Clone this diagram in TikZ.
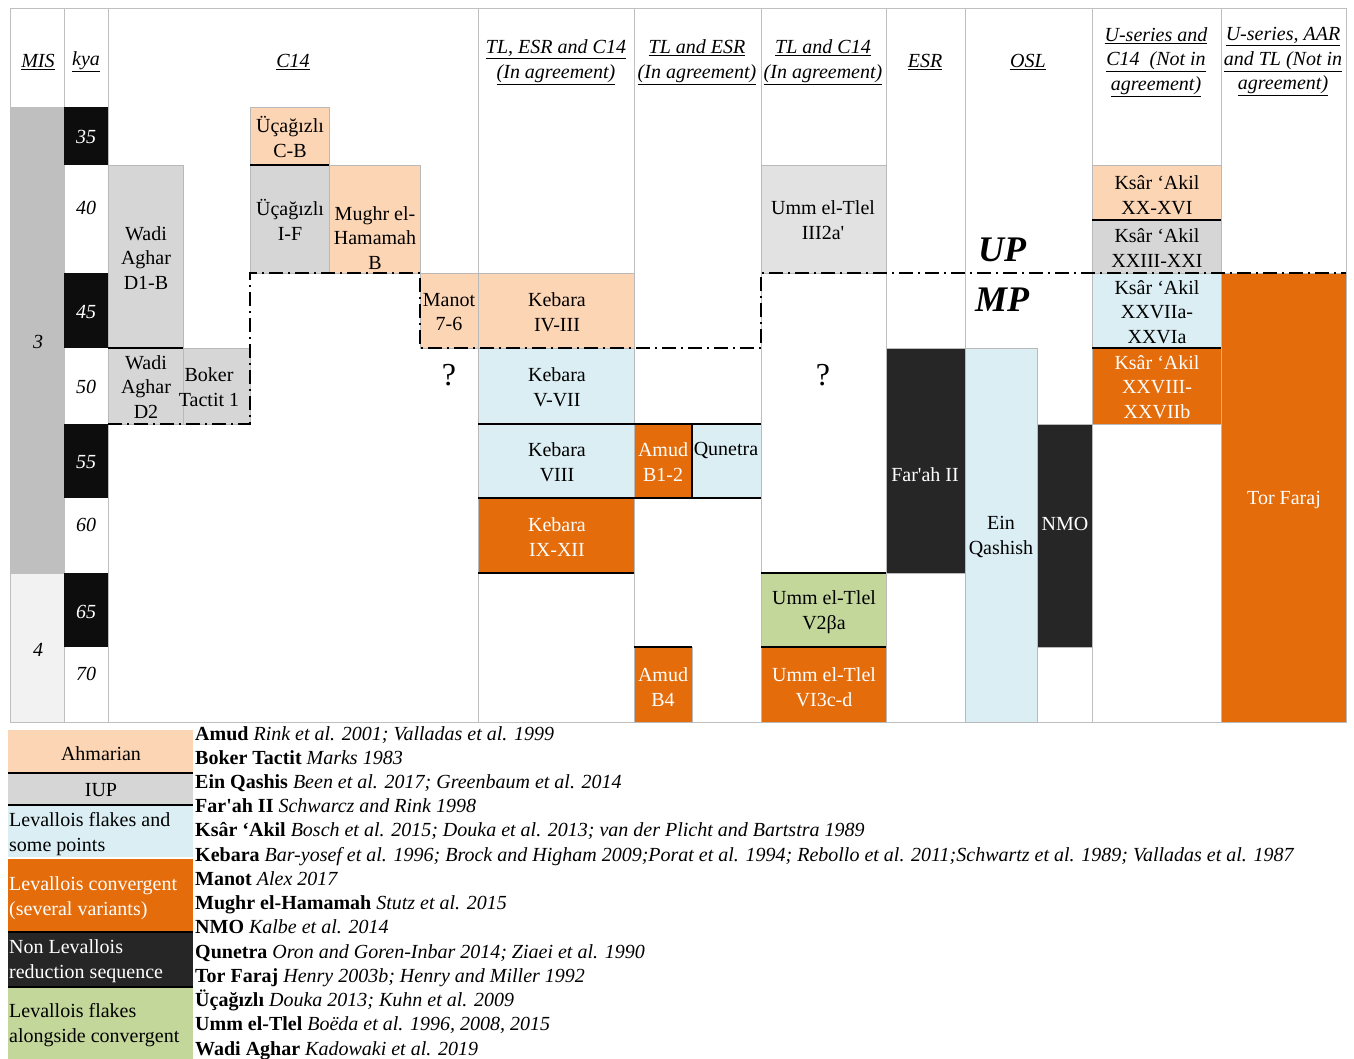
\documentclass[tikz,border=0pt]{standalone}
\usepackage{fontspec}
\setmainfont{Liberation Serif}[Ligatures=TeXOff]
\definecolor{ahmar}{HTML}{FCD5B4}
\definecolor{iup}{HTML}{D6D6D6}
\definecolor{levflake}{HTML}{DAEEF3}
\definecolor{levconv}{HTML}{E46C0A}
\definecolor{nonlev}{HTML}{262626}
\definecolor{levmix}{HTML}{C4D79B}
\definecolor{misthree}{HTML}{BFBFBF}
\definecolor{misfour}{HTML}{F2F2F2}
\definecolor{rulegrey}{HTML}{BFBFBF}
\begin{document}
\begin{tikzpicture}[x=1pt,y=-1pt,
  every node/.style={inner sep=0pt, align=center, font=\fontsize{20}{24.5}\selectfont},
  hdr/.style={font=\fontsize{20}{24.5}\selectfont\itshape},
  kya/.style={font=\fontsize{20}{24}\selectfont\itshape},
  wht/.style={text=white},
  rule/.style={draw=rulegrey, line width=0.8pt},
  box/.style={draw=gray!55, line width=0.6pt},
  sepline/.style={line width=2.5pt},
  updash/.style={line width=2.5pt, dash pattern=on 14pt off 5pt on 2pt off 5pt}]

\useasboundingbox (0,0) rectangle (1354,1059);

% table frame
\foreach \x in {10,64,108,478,634,761,886,965,1092,1221,1346}
  \draw[rule] (\x,8) -- (\x,722);
\draw[rule] (10,8) -- (1346,8);
\draw[rule] (10,722) -- (1346,722);

% MIS and kya
\filldraw[rule, fill=misthree] (10,107) rectangle (64,573);
\filldraw[rule, fill=misfour] (10,573) rectangle (64,722);
\foreach \a/\b in {107/165,273/348,424/498,573/647}
  \fill[black!95] (64,\a) rectangle (108,\b);
\node[kya] (mis3) at (38,342) {3};
\node[kya] (mis4) at (38,650) {4};
\foreach \k/\y/\c in {35/137/white,40/208/black,45/312/white,50/387/black,55/462/white,60/525/black,65/612/white,70/674/black}
  \node[kya, text=\c] (kya\k) at (86,\y) {\k};

% headers
\node[hdr] (hmis) at (38,62) {\underline{MIS}};
\node[hdr] (hkya) at (86,62) {\underline{kya}};
\node[hdr] (hcfour) at (293,62) {\underline{C14}};
\node[hdr] (htec) at (556,62) {\underline{TL, ESR and C14}\\\underline{(In agreement)}};
\node[hdr] (hte) at (697,62) {\underline{TL and ESR}\\\underline{(In agreement)}};
\node[hdr] (htc) at (823,62) {\underline{TL and C14}\\\underline{(In agreement)}};
\node[hdr] (hesr) at (925,62) {\underline{ESR}};
\node[hdr] (hosl) at (1028,62) {\underline{OSL}};
\node[hdr] (huc) at (1156,62) {\underline{U-series and}\\\underline{C14\ \ (Not in}\\\underline{agreement)}};
\node[hdr] (huat) at (1283,62) {\underline{U-series, AAR}\\\underline{and TL (Not in}\\\underline{agreement)}};

% C14
\filldraw[box, fill=iup] (108,165) rectangle (183,348);
\filldraw[box, fill=iup] (108,348) rectangle (183,424);
\filldraw[box, fill=iup] (183,348) rectangle (250,424);
\filldraw[box, fill=ahmar] (250,107) rectangle (329,165);
\filldraw[box, fill=iup] (250,165) rectangle (329,273);
\filldraw[box, fill=ahmar] (329,165) rectangle (420,273);
\filldraw[box, fill=ahmar] (420,273) rectangle (478,348);
\node (wadid1) at (146,258) {Wadi\\Aghar\\D1-B};
\node (wadid2) at (146,387) {Wadi\\Aghar\\D2};
\node (boker) at (209,387) {Boker\\Tactit 1};
\node (ucacb) at (290,137) {Üçağızlı\\C-B};
\node (ucaif) at (290,220) {Üçağızlı\\I-F};
\node (mughr) at (375,238) {Mughr el-\\Hamamah\\B};
\node (manot) at (449,312) {Manot\\7-6};
\node[font=\fontsize{32}{32}\selectfont] (qone) at (449,375) {?};

% TL, ESR and C14
\filldraw[box, fill=ahmar] (478,273) rectangle (634,348);
\filldraw[box, fill=levflake] (478,348) rectangle (634,424);
\filldraw[box, fill=levflake] (478,424) rectangle (634,498);
\filldraw[box, fill=levconv] (478,498) rectangle (634,573);
\node (keb43) at (557,312) {Kebara\\IV-III};
\node (keb57) at (557,387) {Kebara\\V-VII};
\node (keb8) at (557,462) {Kebara\\VIII};
\node[wht] (keb912) at (557,537) {Kebara\\IX-XII};

% TL and ESR
\filldraw[box, fill=levconv] (634,424) rectangle (692,498);
\filldraw[box, fill=levflake] (692,424) rectangle (761,498);
\filldraw[box, fill=levconv] (634,647) rectangle (692,722);
\node[wht] (amudb12) at (663,462) {Amud\\B1-2};
\node (qunetra) at (726,450) {Qunetra};
\node[wht] (amudb4) at (663,687) {Amud\\B4};

% TL and C14
\filldraw[box, fill=iup!70!white] (761,165) rectangle (886,273);
\filldraw[box, fill=levmix] (761,573) rectangle (886,647);
\filldraw[box, fill=levconv] (761,647) rectangle (886,722);
\node (umm3) at (823,220) {Umm el-Tlel\\III2a'};
\node[font=\fontsize{32}{32}\selectfont] (qtwo) at (823,375) {?};
\node (umm5) at (824,612) {Umm el-Tlel\\V2βa};
\node[wht] (umm6) at (824,687) {Umm el-Tlel\\VI3c-d};

% ESR and OSL
\filldraw[box, fill=nonlev] (886,348) rectangle (965,573);
\filldraw[box, fill=levflake] (965,348) rectangle (1037,722);
\filldraw[box, fill=nonlev] (1037,424) rectangle (1092,647);
\node[wht] (farah) at (925,475) {Far'ah II};
\node (einq) at (1001,537) {Ein\\Qashish};
\node[wht] (nmo) at (1065,524) {NMO};

% U-series columns
\filldraw[box, fill=ahmar] (1092,165) rectangle (1221,220);
\filldraw[box, fill=iup] (1092,220) rectangle (1221,273);
\filldraw[box, fill=levflake] (1092,273) rectangle (1221,348);
\filldraw[box, fill=levconv] (1092,348) rectangle (1221,424);
\filldraw[box, fill=levconv] (1221,273) rectangle (1346,722);
\node (ksar1) at (1157,195) {Ksâr ‘Akil\\XX-XVI};
\node (ksar2) at (1157,248) {Ksâr ‘Akil\\XXIII-XXI};
\node (ksar3) at (1157,312) {Ksâr ‘Akil\\XXVIIa-\\XXVIa};
\node[wht] (ksar4) at (1157,387) {Ksâr ‘Akil\\XXVIII-\\XXVIIb};
\node[wht] (torf) at (1284,500) {Tor Faraj};

% solid separators
\draw[sepline] (250,165) -- (329,165);
\draw[sepline] (108,348) -- (183,348);
\draw[sepline] (478,424) -- (761,424);
\draw[sepline] (478,498) -- (761,498);
\draw[sepline] (692,424) -- (692,498);
\draw[sepline] (478,573) -- (634,573);
\draw[sepline] (634,647) -- (692,647);
\draw[sepline] (761,573) -- (886,573);
\draw[sepline] (761,647) -- (886,647);
\draw[sepline] (1092,220) -- (1221,220);
\draw[sepline] (1092,348) -- (1221,348);

% UP / MP boundary
\draw[updash] (108,424) -- (250,424) -- (250,273) -- (420,273) -- (420,348)
  -- (761,348) -- (761,273) -- (1346,273);
\node[font=\fontsize{36}{36}\selectfont\bfseries\itshape] (up) at (1002,250) {UP};
\node[font=\fontsize{36}{36}\selectfont\bfseries\itshape] (mp) at (1002,300) {MP};

% legend
\fill[ahmar] (8,730) rectangle (193,773);
\fill[iup] (8,773) rectangle (193,805);
\fill[levflake] (8,805) rectangle (193,857);
\fill[levconv] (8,859) rectangle (193,932);
\fill[nonlev] (8,932) rectangle (193,987);
\fill[levmix] (8,987) rectangle (193,1059);
\foreach \y in {773,805,932,987}
  \draw[sepline] (8,\y) -- (193,\y);
\node (lahm) at (101,754) {Ahmarian};
\node (liup) at (101,790) {IUP};
\node[anchor=west, align=left] (lflake) at (9,834) {Levallois flakes and\\some points};
\node[anchor=west, align=left, wht] (lconv) at (9,898) {Levallois convergent\\(several variants)};
\node[anchor=west, align=left, wht] (lnon) at (9,961) {Non Levallois\\reduction sequence};
\node[anchor=west, align=left] (lmix) at (9,1025) {Levallois flakes\\alongside convergent};

% references
\foreach \s/\r [count=\i] in {
  Amud/{Rink et al. 2001; Valladas et al. 1999},
  Boker Tactit/{Marks 1983},
  Ein Qashis/{Been et al. 2017; Greenbaum et al. 2014},
  Far'ah II/{Schwarcz and Rink 1998},
  Ksâr ‘Akil/{Bosch et al. 2015; Douka et al. 2013; van der Plicht and Bartstra 1989},
  Kebara/{Bar-yosef et al. 1996; Brock and Higham 2009;Porat et al. 1994; Rebollo et al. 2011;Schwartz et al. 1989; Valladas et al. 1987},
  Manot/{Alex 2017},
  Mughr el-Hamamah/{Stutz et al. 2015},
  NMO/{Kalbe et al. 2014},
  Qunetra/{Oron and Goren-Inbar 2014; Ziaei et al. 1990},
  Tor Faraj/{Henry 2003b; Henry and Miller 1992},
  Üçağızlı/{Douka 2013; Kuhn et al. 2009},
  Umm el-Tlel/{Boëda et al. 1996, 2008, 2015},
  Wadi Aghar/{Kadowaki et al. 2019}}
  \node[anchor=base west, align=left] (ref\i) at (195,{740+24.23*(\i-1)}) {\textbf{\s} \textit{\r}};
\end{tikzpicture}
\end{document}
